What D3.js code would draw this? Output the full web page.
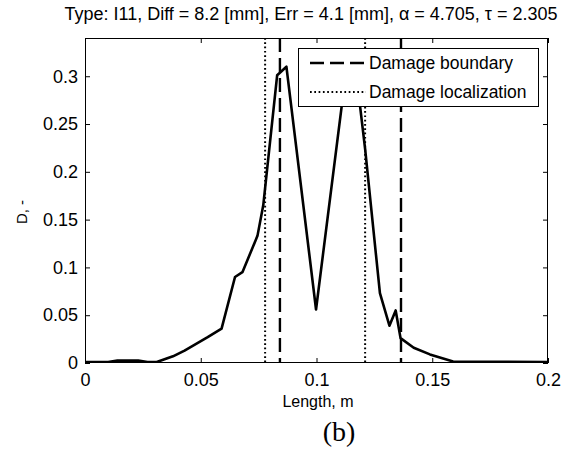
<!DOCTYPE html>
<html>
<head>
<meta charset="utf-8">
<script src="https://cdn.jsdelivr.net/npm/d3@7"></script>
<style>
  html, body { margin: 0; padding: 0; background: #fff; }
  svg { display: block; }
  text { font-family: "Liberation Sans", Arial, sans-serif; fill: #000; }
</style>
</head>
<body>
<svg id="chart" width="574" height="450"></svg>
<script>
// ---- data ----
const lengthM = [0, 0.010, 0.014, 0.023, 0.027, 0.031, 0.038, 0.043, 0.048, 0.053, 0.059, 0.0648, 0.068, 0.0745, 0.077, 0.083, 0.087, 0.0998, 0.1109, 0.1145, 0.1188, 0.121, 0.1274, 0.1315, 0.1342, 0.1363, 0.142, 0.149, 0.159, 0.2];
const damage  = [0.001, 0.001, 0.0025, 0.0025, 0.001, 0.001, 0.007, 0.013, 0.020, 0.027, 0.036, 0.090, 0.095, 0.133, 0.165, 0.301, 0.310, 0.056, 0.269, 0.322, 0.269, 0.224, 0.073, 0.039, 0.055, 0.026, 0.016, 0.009, 0.0015, 0.001];
const boundaryX = [0.0842, 0.1365];
const localizationX = [0.0778, 0.121];
const xTicks = [0, 0.05, 0.1, 0.15, 0.2];
const xTickLabels = ["0", "0.05", "0.1", "0.15", "0.2"];
const yTicks = [0, 0.05, 0.1, 0.15, 0.2, 0.25, 0.3];
const yTickLabels = ["0", "0.05", "0.1", "0.15", "0.2", "0.25", "0.3"];
const legendLabels = ["Damage boundary", "Damage localization"];
const titleParts = ["Type: I11, Diff = 8.2 [mm], Err = 4.1 [mm], ", "α", " = 4.705, ", "τ", " = 2.305"];
const xLabel = "Length, m";
const yLabel = "D, -";
const caption = "(b)";

// ---- layout ----
const L = 85, R = 548, T = 38, B = 363;
const svg = d3.select("#chart");
const x = d3.scaleLinear().domain([0, 0.2]).range([L, R]);
const y = d3.scaleLinear().domain([0, 0.34]).range([B, T]);

// axes (ticks inside)
const gx = svg.append("g").attr("transform", `translate(0,${B})`)
  .call(d3.axisBottom(x).tickValues(xTicks).tickSize(-5).tickPadding(10)
        .tickFormat((d, i) => xTickLabels[i]));
const gxTop = svg.append("g").attr("transform", `translate(0,${T})`)
  .call(d3.axisTop(x).tickValues(xTicks).tickSize(-5).tickFormat(""));
const gy = svg.append("g").attr("transform", `translate(${L},0)`)
  .call(d3.axisLeft(y).tickValues(yTicks).tickSize(-5).tickPadding(7)
        .tickFormat((d, i) => yTickLabels[i]));
const gyR = svg.append("g").attr("transform", `translate(${R},0)`)
  .call(d3.axisRight(y).tickValues(yTicks).tickSize(-5).tickFormat(""));
[gx, gxTop, gy, gyR].forEach(g => {
  g.select(".domain").remove();
  g.selectAll("line").attr("stroke", "#000").attr("stroke-width", 1);
  g.selectAll("text").style("font-family", '"Liberation Sans", Arial, sans-serif')
    .style("font-size", "18px").attr("fill", "#000");
});
gx.selectAll("text").attr("dy", "0.71em");

// box
svg.append("rect").attr("x", L + 0.5).attr("y", T + 0.5)
  .attr("width", R - L - 1).attr("height", B - T - 1)
  .attr("fill", "none").attr("stroke", "#000").attr("stroke-width", 1);

// clip
svg.append("clipPath").attr("id", "clip").append("rect")
  .attr("x", L).attr("y", T).attr("width", R - L).attr("height", B - T);
const plot = svg.append("g").attr("clip-path", "url(#clip)");

// curve
const pts = lengthM.map((v, i) => [v, damage[i]]);
plot.append("path").datum(pts)
  .attr("d", d3.line().x(d => x(d[0])).y(d => y(d[1])))
  .attr("fill", "none").attr("stroke", "#000").attr("stroke-width", 2.6)
  .attr("stroke-linejoin", "round");

// vertical lines
plot.selectAll(".bnd").data(boundaryX).join("line")
  .attr("x1", d => x(d)).attr("x2", d => x(d)).attr("y1", T).attr("y2", B)
  .attr("stroke", "#000").attr("stroke-width", 2.4).attr("stroke-dasharray", "14,6");
plot.selectAll(".loc").data(localizationX).join("line")
  .attr("x1", d => x(d)).attr("x2", d => x(d)).attr("y1", T).attr("y2", B)
  .attr("stroke", "#000").attr("stroke-width", 2).attr("stroke-dasharray", "1.7,2.6");

// legend
const lg = svg.append("g");
lg.append("rect").attr("x", 298.5).attr("y", 48.5).attr("width", 240).attr("height", 58)
  .attr("fill", "#fff").attr("stroke", "#000").attr("stroke-width", 1);
const rows = [63, 92];
lg.append("line").attr("x1", 310).attr("x2", 364).attr("y1", rows[0]).attr("y2", rows[0])
  .attr("stroke", "#000").attr("stroke-width", 2.4).attr("stroke-dasharray", "14,6");
lg.append("line").attr("x1", 310).attr("x2", 366).attr("y1", rows[1]).attr("y2", rows[1])
  .attr("stroke", "#000").attr("stroke-width", 2).attr("stroke-dasharray", "1.7,2.6");
lg.selectAll(".lt").data(legendLabels).join("text")
  .attr("x", 369).attr("y", (d, i) => rows[i]).attr("dy", "0.36em")
  .style("font-size", "17.5px").text(d => d);

// title
const tt = svg.append("text").attr("x", 311).attr("y", 20)
  .attr("text-anchor", "middle").style("font-size", "18px");
titleParts.forEach(p => tt.append("tspan").text(p));

// axis labels
svg.append("text").attr("x", 318).attr("y", 407).attr("text-anchor", "middle")
  .style("font-size", "16px").text(xLabel);
svg.append("text").attr("transform", `translate(27,212) rotate(-90)`)
  .attr("text-anchor", "middle").style("font-size", "15px").text(yLabel);
svg.append("text").attr("x", 339).attr("y", 441).attr("text-anchor", "middle")
  .style("font-family", '"Liberation Serif", "Times New Roman", serif')
  .style("font-size", "28px").text(caption);
</script>
</body>
</html>
